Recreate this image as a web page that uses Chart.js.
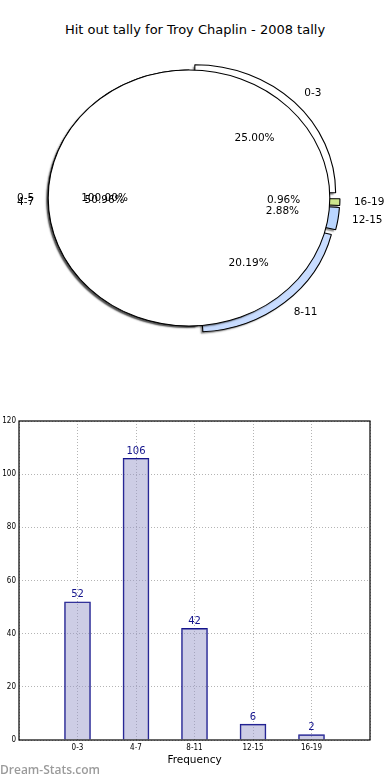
<!DOCTYPE html>
<html>
<head>
<meta charset="utf-8">
<title>Hit out tally for Troy Chaplin - 2008 tally</title>
<script src="https://cdn.jsdelivr.net/npm/chart.js@4.4.1/dist/chart.umd.min.js"></script>
<style>
  html, body { margin: 0; padding: 0; background: #fff; }
  #page { position: relative; width: 390px; height: 780px; overflow: hidden; }
  #title { position: absolute; left: 0; top: 22px; width: 390px; line-height: 15px;
           text-align: center; font-family: 'DejaVu Sans', sans-serif; font-size: 13px; color: #000; }
  canvas { position: absolute; left: 0; }
  #pie-back, #pie-front { top: 0; }
  #bars { top: 400px; }
  #mark { position: absolute; left: 0; top: 763px; line-height: 14px;
          font-family: 'Open Sans', sans-serif; font-weight: 600; font-size: 12px; color: #9b9b9b; }
</style>
</head>
<body>
<div id="page">
  <div id="title">Hit out tally for Troy Chaplin - 2008 tally</div>
  <canvas id="pie-back" width="390" height="360"></canvas>
  <canvas id="pie-front" width="390" height="360"></canvas>
  <canvas id="bars" width="390" height="380"></canvas>
  <div id="mark">Dream-Stats.com</div>
</div>
<script>
// data
const binLabels = ['0-3', '4-7', '8-11', '12-15', '16-19'];
const hitOuts = [52, 106, 42, 6, 2];
const overallLabel = ['0-5'];
const overallValue = [208];

// pie styling (same order as binLabels)
const sliceColors = ['#ffffff', '#ffffff', '#c8dcff', '#bad6ff', '#cde68e'];
const sliceOffsets = [30, 0, 30, 20, 19];

const SX = 1.1;          // the original pie is a little wider than tall
const PIE_R = 128;
const NAVY = '#14148c';

Chart.defaults.font.family = "'DejaVu Sans', sans-serif";
Chart.defaults.color = '#000';

// stretch the pie horizontally and give the fills a soft drop shadow like matplotlib's
const squash = {
  id: 'squash',
  beforeDatasetsDraw(chart) {
    const arc = chart.getDatasetMeta(0).data[0];
    const ctx = chart.ctx;
    ctx.save();
    ctx.translate(arc.x, arc.y);
    ctx.scale(SX, 1);
    ctx.translate(-arc.x, -arc.y);
    ctx.shadowColor = 'rgba(0, 0, 0, 0.45)';
    ctx.shadowBlur = 1.5;
    ctx.shadowOffsetX = -2;
    ctx.shadowOffsetY = 2;
    // outlines should not cast a shadow
    const plainStroke = ctx.stroke;
    ctx.stroke = function () {
      const c = this.shadowColor;
      this.shadowColor = 'rgba(0, 0, 0, 0)';
      plainStroke.apply(this, arguments);
      this.shadowColor = c;
    };
    chart.$plainStroke = plainStroke;
    // full circle: stroke the rim only, skip the radial edge
    if (chart.canvas.id === 'pie-front') {
      ctx.setLineDash([2 * Math.PI * PIE_R, 2000]);
    }
  },
  afterDatasetsDraw(chart) {
    chart.ctx.stroke = chart.$plainStroke;
    chart.ctx.restore();
  }
};

// label at 1.1 r, percentage at 0.6 r, written on the given context
function drawSliceLabels(chart, ctx) {
  const labels = chart.data.labels;
  const values = chart.data.datasets[0].data;
  const total = values.reduce((s, v) => s + v, 0);
  ctx.save();
  ctx.font = "10.5px 'DejaVu Sans'";
  ctx.fillStyle = '#000';
  ctx.textBaseline = 'middle';
  chart.getDatasetMeta(0).data.forEach((arc, i) => {
    const mid = (arc.startAngle + arc.endAngle) / 2;
    const cos = Math.cos(mid);
    const sin = Math.sin(mid);
    const span = arc.endAngle - arc.startAngle;
    const d = (arc.options.offset || 0) / 4;
    const shift = d * (2 - Math.sin(Math.min(Math.PI, span)));
    const at = k => [
      arc.x + SX * (arc.outerRadius * k + shift) * cos,
      arc.y + (arc.outerRadius * k + shift) * sin
    ];
    let [x, y] = at(1.1);
    ctx.textAlign = cos >= 0 ? 'left' : 'right';
    ctx.fillText(labels[i], x, y);
    [x, y] = at(0.6);
    ctx.textAlign = 'center';
    ctx.fillText((values[i] / total * 100).toFixed(2) + '%', x, y);
  });
  ctx.restore();
}

const pieOptions = {
  responsive: false,
  animation: false,
  events: [],
  rotation: 90,
  radius: PIE_R,
  layout: { padding: { left: 0, right: 12, top: 36, bottom: 0 } },
  plugins: { legend: { display: false }, tooltip: { enabled: false } }
};

// slices go counter-clockwise from 3 o'clock, so feed them reversed
const backChart = new Chart(document.getElementById('pie-back'), {
  type: 'pie',
  data: {
    labels: binLabels.slice().reverse(),
    datasets: [{
      data: hitOuts.slice().reverse(),
      backgroundColor: sliceColors.slice().reverse(),
      offset: sliceOffsets.slice().reverse(),
      borderColor: '#000',
      borderWidth: 1,
      clip: false
    }]
  },
  options: pieOptions,
  plugins: [squash]
});

new Chart(document.getElementById('pie-front'), {
  type: 'pie',
  data: {
    labels: overallLabel,
    datasets: [{
      data: overallValue,
      backgroundColor: '#ffffff',
      borderColor: '#000',
      borderWidth: 1,
      borderDash: [2 * Math.PI * PIE_R, 2000],
      clip: false
    }]
  },
  options: pieOptions,
  plugins: [squash, {
    id: 'pieLabels',
    afterDraw(chart) {
      drawSliceLabels(backChart, chart.ctx);
      drawSliceLabels(chart, chart.ctx);
    }
  }]
});

// ---- bar chart ----
const valueTags = {
  id: 'valueTags',
  afterDatasetsDraw(chart) {
    const ctx = chart.ctx;
    const data = chart.data.datasets[0].data;
    ctx.save();
    ctx.font = "10px 'DejaVu Sans'";
    ctx.fillStyle = NAVY;
    ctx.textAlign = 'center';
    ctx.textBaseline = 'bottom';
    chart.getDatasetMeta(0).data.forEach((bar, i) => {
      if (data[i] == null) return;
      ctx.fillText(String(data[i]), bar.x, bar.y - 2);
    });
    ctx.restore();
  }
};

const frame = {
  id: 'frame',
  afterDraw(chart) {
    const { left, top, width, height } = chart.chartArea;
    const ctx = chart.ctx;
    ctx.save();
    ctx.strokeStyle = '#000';
    ctx.lineWidth = 1.2;
    ctx.strokeRect(left, top, width, height);
    ctx.restore();
  }
};

const tickFont = { family: "'DejaVu Sans Condensed', 'DejaVu Sans', sans-serif", size: 8 };

new Chart(document.getElementById('bars'), {
  type: 'bar',
  data: {
    labels: ['', ...binLabels, ''],
    datasets: [{
      data: [null, ...hitOuts, null],
      backgroundColor: 'rgba(150, 150, 200, 0.48)',
      borderColor: NAVY,
      borderWidth: 1,
      barThickness: 26
    }]
  },
  options: {
    responsive: false,
    animation: false,
    events: [],
    layout: { padding: { top: 21, right: 20, left: 0, bottom: 0 } },
    plugins: { legend: { display: false }, tooltip: { enabled: false } },
    scales: {
      x: {
        offset: false,
        grid: { offset: false, color: '#b4b4b4', drawTicks: false },
        border: { display: false, dash: [1, 2] },
        ticks: { font: tickFont, color: '#000', padding: 3, autoSkip: false, maxRotation: 0 },
        title: {
          display: true,
          text: 'Frequency',
          font: { size: 10.5 },
          color: '#000',
          padding: { top: 0, bottom: 13 }
        },
        afterFit(scale) { scale.height = 40; }
      },
      y: {
        min: 0,
        max: 120,
        grid: { color: '#b4b4b4', drawTicks: false },
        border: { display: false, dash: [1, 2] },
        ticks: { stepSize: 20, font: tickFont, color: '#000', padding: 3 },
        afterFit(scale) { scale.width = 19; }
      }
    }
  },
  plugins: [valueTags, frame]
});
</script>
</body>
</html>
